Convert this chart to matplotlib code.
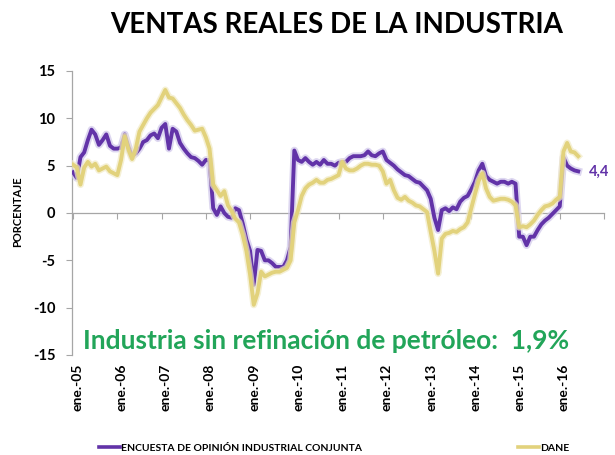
import matplotlib
matplotlib.use("Agg")
import matplotlib.pyplot as plt
import matplotlib.patheffects as pe
import matplotlib.transforms as mtransforms
from matplotlib.lines import Line2D
import numpy as np

plt.rcParams['font.family'] = ['Lato', 'DejaVu Sans']

title = "VENTAS REALES DE LA INDUSTRIA"
ylabel = "PORCENTAJE"
note = "Industria sin refinación de petróleo:  1,9%"
series_names = ["ENCUESTA DE OPINIÓN INDUSTRIAL CONJUNTA", "DANE"]
years = list(range(2005, 2017))
tick_labels = ["ene.-%02d" % (y % 100) for y in years]
last_label = "4,4"

# monthly values, Jan 2005 .. Jun 2016
eoic = [4.3, 3.7, 5.9, 6.4, 7.7, 8.8, 8.3, 7.2, 7.7, 8.3, 7.1, 6.8,
        6.8, 6.9, 8.3, 7.0, 6.0, 6.3, 6.8, 7.5, 7.7, 8.2, 8.4, 7.9,
        9.0, 9.4, 6.8, 8.9, 8.6, 7.4, 6.8, 6.3, 5.9, 5.8, 5.5, 5.1,
        5.6, 5.6, 0.5, -0.2, 0.7, 0.0, -0.4, -0.5, 0.5, 0.3, -1.1, -2.8,
        -4.0, -7.6, -3.9, -4.0, -5.0, -5.0, -5.3, -5.7, -5.7, -5.7, -5.0, -3.6,
        6.6, 5.6, 5.4, 5.8, 5.4, 5.1, 5.4, 5.1, 5.6, 5.2, 5.2, 5.0,
        5.3, 5.4, 5.4, 5.8, 6.0, 6.0, 6.0, 6.1, 6.5, 6.1, 6.0, 6.3,
        6.5, 5.6, 5.3, 5.0, 4.6, 4.3, 4.0, 3.9, 3.6, 3.3, 3.2, 2.8,
        2.4, 1.5, -0.5, -1.8, 0.3, 0.5, 0.2, 0.6, 0.4, 1.2, 1.6, 1.8,
        2.5, 3.3, 4.5, 5.2, 3.9, 3.5, 3.3, 3.1, 3.3, 3.3, 3.1, 3.3,
        3.1, -2.5, -2.5, -3.4, -2.5, -2.5, -1.8, -1.2, -0.8, -0.5, -0.1, 0.3,
        0.7, 5.9, 5.0, 4.7, 4.5, 4.4]

dane = [5.1, 4.8, 3.0, 4.8, 5.4, 4.9, 5.2, 4.5, 4.7, 4.9, 4.4, 4.2,
        4.0, 5.6, 8.1, 6.7, 5.7, 6.8, 8.6, 9.3, 10.0, 10.6, 11.0, 11.4,
        12.2, 13.0, 12.2, 12.1, 11.6, 11.1, 10.4, 9.8, 9.3, 8.7, 8.8, 8.9,
        8.0, 6.8, 3.0, 2.4, 1.8, 2.3, 0.8, 0.2, -0.6, -1.0, -2.3, -4.0,
        -6.5, -9.7, -8.5, -6.2, -6.7, -6.5, -6.3, -6.2, -6.2, -6.0, -5.8, -5.0,
        -1.0, 0.3, 1.8, 2.6, 3.0, 3.2, 3.5, 3.2, 3.2, 3.5, 3.6, 3.8,
        4.0, 5.4, 4.7, 4.5, 4.5, 4.7, 5.0, 5.2, 5.2, 5.1, 5.1, 5.0,
        4.4, 3.1, 3.5, 2.4, 1.6, 1.4, 1.7, 1.3, 1.1, 0.8, 0.7, 0.4,
        0.1, -2.0, -4.0, -6.4, -2.7, -2.2, -2.1, -1.9, -2.0, -1.7, -1.5, -1.0,
        0.5, 2.0, 3.4, 4.2, 2.6, 1.7, 1.3, 1.4, 1.5, 1.5, 1.4, 1.2,
        0.8, -1.5, -1.4, -1.5, -1.2, -0.8, -0.2, 0.3, 0.7, 0.8, 1.0, 1.4,
        1.7, 6.5, 7.4, 6.5, 6.4, 6.0]

purple = "#6233A8"
tan = "#E2D27C"
green = "#22A559"
grey = "#A6A6A6"

fig = plt.figure(figsize=(6.15, 4.55), dpi=100)
ax = fig.add_axes([72/615, 1-355/455, (604-72)/615, (355-71)/455])

m_e = np.arange(len(eoic))
m_d = np.arange(len(dane))
ax.plot(m_e, eoic, color=purple, lw=2.8, solid_joinstyle='round', zorder=3,
        path_effects=[pe.Stroke(linewidth=5.5, foreground="#CFC6EA", alpha=0.7), pe.Normal()])
ax.plot(m_d, dane, color=tan, lw=2.8, solid_joinstyle='round', zorder=4,
        path_effects=[pe.Stroke(linewidth=5.0, foreground="#F1EAC4", alpha=0.7), pe.Normal()])

ax.set_xlim(-0.3, 144)
ax.set_ylim(-15, 15)

for s in ['top', 'right']:
    ax.spines[s].set_visible(False)
ax.spines['left'].set_color(grey)
ax.spines['bottom'].set_color(grey)
ax.spines['bottom'].set_position(('data', 0))
ax.spines['left'].set_linewidth(0.9)
ax.spines['bottom'].set_linewidth(0.9)

ax.set_yticks([-15, -10, -5, 0, 5, 10, 15])
ax.set_yticklabels(["-15", "-10", "-5", "0", "5", "10", "15"], fontweight='bold', fontsize=10.5)
ax.tick_params(axis='y', direction='out', length=4, color=grey, pad=8)
ax.set_xticks(np.arange(0, 145, 12))
ax.tick_params(axis='x', direction='out', length=4, color=grey, labelbottom=False)

trans = mtransforms.blended_transform_factory(ax.transData, ax.transAxes)
offset = mtransforms.ScaledTranslation(4/100, 0, fig.dpi_scale_trans)
for i, lab in enumerate(tick_labels):
    ax.text(i*12, -0.03, lab, transform=trans + offset, rotation=90,
            ha='center', va='top', fontsize=10, fontweight='bold')

ax.annotate(last_label, xy=(m_e[-1], eoic[-1]), xytext=(8, 0), textcoords='offset points',
            color=purple, fontsize=10.5, fontweight='bold', va='center', ha='left')

fig.text(337/615, 1-25/455, title, ha='center', va='center', fontsize=20, fontweight='bold')
fig.text(18/615, 1-212/455, ylabel, rotation=90, ha='center', va='center', fontsize=8, fontweight='bold')
fig.text(326/615, 1-341/455, note, ha='center', va='center', fontsize=19, fontweight='bold', color=green)

handles = [Line2D([], [], color=purple, lw=2.6), Line2D([], [], color=tan, lw=2.6)]
fig.legend(handles, series_names, ncol=2, loc='center', bbox_to_anchor=(334/615, 1-448/455),
           frameon=False, handlelength=2.0, handletextpad=0.1, columnspacing=15,
           prop={'weight': 'bold', 'size': 7.5}, borderpad=0, borderaxespad=0)

fig.savefig("out.png", dpi=100)
